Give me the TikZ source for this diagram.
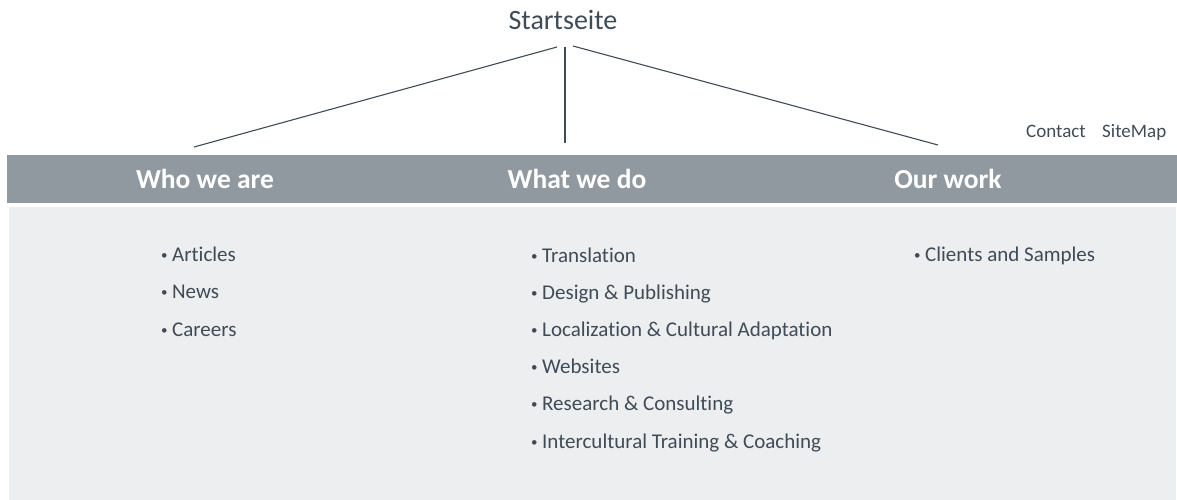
\documentclass[tikz,border=0pt]{standalone}
\usepackage{fontspec}
\setmainfont{Carlito}[Ligatures=NoCommon]
\usetikzlibrary{positioning}

\definecolor{inkgray}{HTML}{3F4B56}
\definecolor{bargray}{HTML}{9199A0}
\definecolor{pagegray}{HTML}{EDEEF0}

\newcommand\itemdot{\raisebox{2pt}{\fontsize{13}{13}\selectfont•}\hspace{4.5pt}}

\tikzset{
  item/.style={anchor=base west,inner sep=0pt,text=inkgray,
    font=\fontsize{21}{24}\selectfont},
  head/.style={anchor=base,inner sep=0pt,text=white,
    font=\fontsize{27.5}{30}\selectfont\bfseries},
  toplink/.style={anchor=base west,inner sep=0pt,text=inkgray,
    font=\fontsize{19}{22}\selectfont},
  link/.style={draw=inkgray,line width=1.1pt}
}

\begin{document}
\begin{tikzpicture}[x=1pt,y=-1pt]
    \useasboundingbox (0,0) rectangle (1177,500);
    % bar and page background
    \fill [bargray] (7,155) rectangle (1177,203);
    \fill [pagegray] (9,207) rectangle (1176,500);
    % root
    \node [anchor=base,inner sep=0pt,text=inkgray,
      font=\fontsize{28}{32}\selectfont] (start) at (563,30) {Startseite};
    \coordinate (S0) at (557,47);
    \coordinate (S1) at (565,47);
    \coordinate (S2) at (573,46);
    \coordinate (E0) at (194,147);
    \coordinate (E1) at (565,143);
    \coordinate (E2) at (938,145);
      \draw [link] (S0)
        -- (E0);
      \draw [link] (S1)
        -- (E1);
      \draw [link] (S2)
        -- (E2);
    % top links
    \node [toplink] (contact) at (1026,137) {Contact};
    \node [toplink] (sitemap) at (1102,137) {SiteMap};
    % headings
    \node [head] (who) at (205,188) {Who we are};
    \node [head] (what) at (577,188) {What we do};
    \node [head] (our) at (948,188) {Our work};
    % who we are
    \node [item] (who1) at (161,261) {\itemdot Articles};
    \node [item] (who2) at (161,298.5) {\itemdot News};
    \node [item] (who3) at (161,336) {\itemdot Careers};
    % what we do
    \node [item] (what1) at (531,262) {\itemdot Translation};
    \node [item] (what2) at (531,299.2) {\itemdot Design \& Publishing};
    \node [item] (what3) at (531,336.4) {\itemdot Localization \& Cultural Adaptation};
    \node [item] (what4) at (531,373.6) {\itemdot Websites};
    \node [item] (what5) at (531,410.8) {\itemdot Research \& Consulting};
    \node [item] (what6) at (531,448) {\itemdot Intercultural Training \& Coaching};
    % our work
    \node [item] (our1) at (914,261) {\itemdot Clients and Samples};
  \end{tikzpicture}
\end{document}
